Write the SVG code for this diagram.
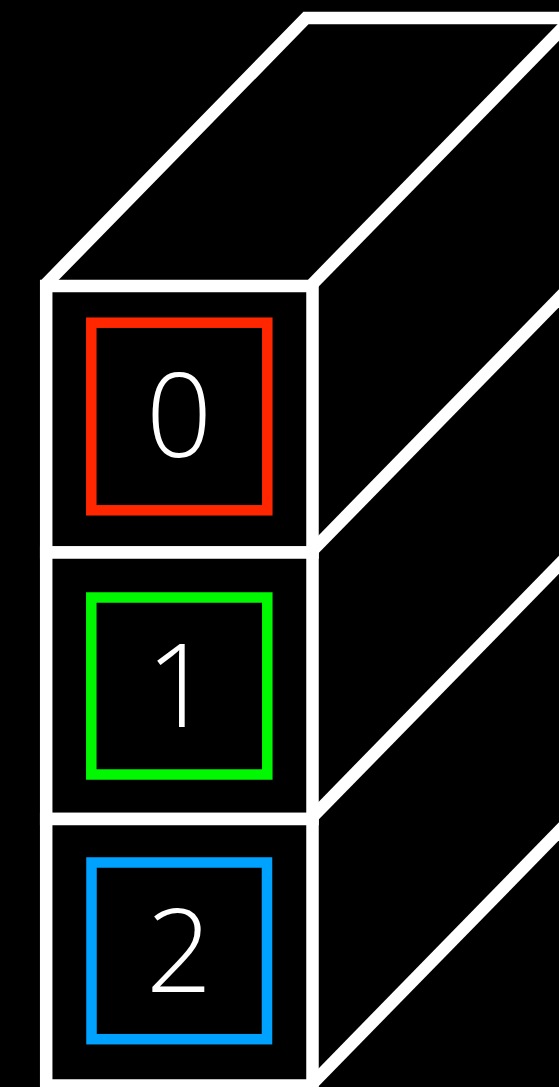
<svg xmlns="http://www.w3.org/2000/svg" width="559" height="1087" viewBox="0 0 559 1087">
  <style>
    .edge { fill: none; stroke: #ffffff; stroke-width: 12.5; stroke-linejoin: miter; stroke-linecap: butt; }
    .cell { fill: #000000; stroke: #ffffff; stroke-width: 12.5; }
    .slot { fill: none; stroke-width: 10.5; }
    .label { fill: #ffffff; font-family: "Open Sans", Roboto, "Noto Sans", sans-serif; font-weight: 300; font-size: 116px; text-anchor: middle; }
  </style>
  <rect x="0" y="0" width="559" height="1087" fill="#000000"/>
  <g id="box-edges">
    <path class="edge" d="M46,284 L306,18 L600,18"/>
    <line class="edge" x1="312.5" y1="284" x2="572.5" y2="18"/>
    <line class="edge" x1="312.5" y1="550.5" x2="572.5" y2="284.5"/>
    <line class="edge" x1="312.5" y1="817" x2="572.5" y2="551"/>
    <line class="edge" x1="312.5" y1="1083.5" x2="572.5" y2="817.5"/>
  </g>
  <g id="cell-0">
    <rect class="cell" x="46.2" y="286" width="266.3" height="266.5"/>
    <rect class="slot" x="91.3" y="322.7" width="176" height="187.6" stroke="#ff2600"/>
    <text class="label" x="179" y="456.7">0</text>
  </g>
  <g id="cell-1">
    <rect class="cell" x="46.2" y="552.5" width="266.3" height="266.5"/>
    <rect class="slot" x="91.3" y="597.5" width="176" height="177" stroke="#00f900"/>
    <text class="label" x="179" y="727.3">1</text>
  </g>
  <g id="cell-2">
    <rect class="cell" x="46.2" y="819" width="266.3" height="266.5"/>
    <rect class="slot" x="91.5" y="862.5" width="175.5" height="176.7" stroke="#00a2ff"/>
    <text class="label" x="179" y="992.3">2</text>
  </g>
</svg>
